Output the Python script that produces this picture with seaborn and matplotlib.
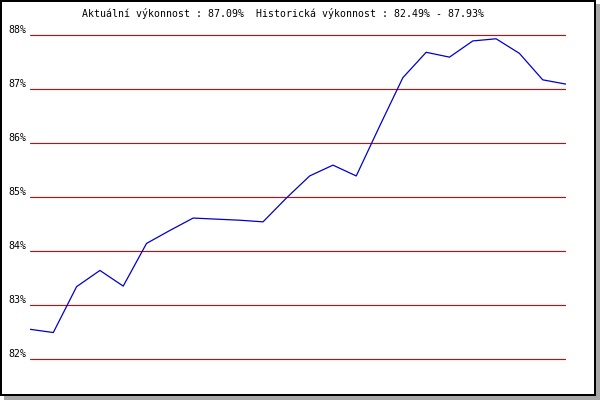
import numpy as np
import pandas as pd
import seaborn as sns
import matplotlib as mpl
from matplotlib import pyplot as plt
from matplotlib.patches import Rectangle

sns.set_style('white')
plt.rcParams['font.family'] = ['DejaVu Sans Mono']

# Values
performance = [82.55, 82.49, 83.34, 83.64, 83.35, 84.14, 84.38, 84.61,
               84.59, 84.57, 84.54, 84.98, 85.39, 85.59, 85.39, 86.31,
               87.21, 87.68, 87.59, 87.89, 87.93, 87.66, 87.17, 87.09]
grid_levels = [82, 83, 84, 85, 86, 87, 88]
current = 87.09
hist_min = 82.49
hist_max = 87.93

W, H = 600, 400
fig = plt.figure(figsize=(6, 4), dpi=100)
fig.patch.set_facecolor('white')

# Frame with grey drop shadow
fig.add_artist(Rectangle((4 / W, 0), 596 / W, 396 / H, transform=fig.transFigure,
                         facecolor='#a8a8a8', edgecolor='none', zorder=-2))
fig.add_artist(Rectangle((1 / W, 5 / H), 594 / W, 394 / H, transform=fig.transFigure,
                         facecolor='white', edgecolor='black', lw=1.44, zorder=-1))

# Axes placed so that 88% sits at y=35px and 82% at y=359px
px_per_unit = 54
ymin, ymax = 81.8, 88.2
top_px = 35 - (ymax - 88) * px_per_unit
bot_px = 359 + (82 - ymin) * px_per_unit
ax = fig.add_axes([30 / W, 1 - bot_px / H, 536 / W, (bot_px - top_px) / H])
ax.set_facecolor('none')

df = pd.DataFrame({'idx': np.arange(len(performance)), 'value': performance})

for lvl in grid_levels:
    ax.axhline(lvl, color='#e00000', lw=0.8, zorder=1)
    ax.text(-4 / 536, lvl + 2 / px_per_unit, f"{lvl}%", transform=ax.get_yaxis_transform(),
            ha='right', va='baseline', fontsize=7.1, color='black')

sns.lineplot(data=df, x='idx', y='value', ax=ax, color='#0000d0', lw=0.9, zorder=2)

ax.set_xlim(0, len(performance) - 1)
ax.set_ylim(ymin, ymax)
ax.set_xticks([])
ax.set_yticks([])
ax.set_xlabel('')
ax.set_ylabel('')
sns.despine(ax=ax, left=True, bottom=True)

fig.text(283 / W, 1 - 17 / H,
         f"Aktuální výkonnost : {current:.2f}%  Historická výkonnost : {hist_min:.2f}% - {hist_max:.2f}%",
         ha='center', va='baseline', fontsize=7.1, color='black')

fig.savefig('out.png', dpi=100)
